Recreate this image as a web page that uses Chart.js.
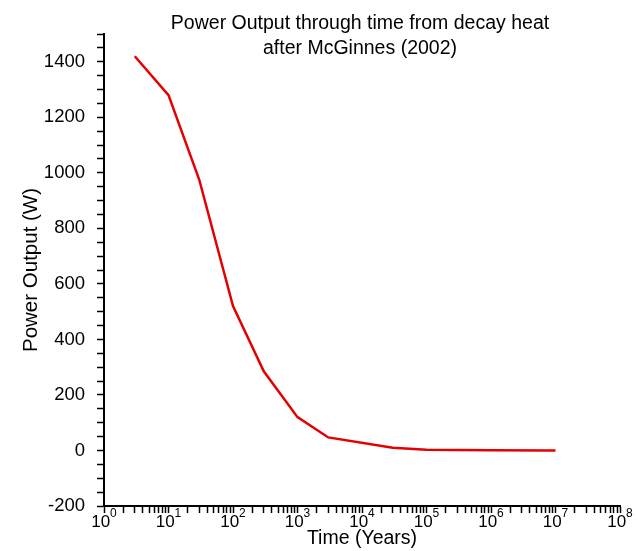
<!DOCTYPE html>
<html>
<head>
<meta charset="utf-8">
<script src="https://cdn.jsdelivr.net/npm/chart.js@4.4.1/dist/chart.umd.min.js"></script>
<style>
  html, body { margin: 0; padding: 0; background: #fff; }
  #wrap { width: 638px; height: 551px; }
</style>
</head>
<body>
<div id="wrap"><canvas id="grafico" width="638" height="551"></canvas></div>
<script>
// datos
const years = [3, 10, 30, 100, 300, 1000, 3000, 30000, 100000, 1000000, 10000000];
const power = [1420, 1280, 975, 520, 285, 120, 47, 10, 3, 1, 0];
const xExponents = ['0', '1', '2', '3', '4', '5', '6', '7', '8'];
const yTickLabels = [-200, 0, 200, 400, 600, 800, 1000, 1200, 1400];
const titleLines = ['Power Output through time from decay heat', 'after McGinnes (2002)'];

const FONT = 'Arial, "Liberation Sans", sans-serif';
Chart.defaults.font.family = FONT;
Chart.defaults.color = '#000';

const ctx = document.getElementById('grafico').getContext('2d');

const tituloPlugin = {
    id: 'tituloPlugin',
    afterDraw(chart) {
        const c = chart.ctx;
        const area = chart.chartArea;
        const cx = (area.left + area.right) / 2 - 2;
        c.save();
        c.fillStyle = '#000';
        c.textAlign = 'center';
        c.textBaseline = 'alphabetic';
        c.font = '19.5px ' + FONT;
        c.fillText(titleLines[0], cx, 29);
        c.fillText(titleLines[1], cx, 54);

        // etiquetas del eje x: 10 con exponente
        const xs = chart.scales.x;
        xExponents.forEach((e) => {
            const px = xs.getPixelForValue(Math.pow(10, Number(e)));
            c.font = '17px ' + FONT;
            const wBase = c.measureText('10').width;
            c.font = '12px ' + FONT;
            const wExp = c.measureText(e).width;
            const start = px - (wBase + wExp) / 2;
            c.textAlign = 'left';
            c.font = '17px ' + FONT;
            c.fillText('10', start, 527);
            c.font = '12px ' + FONT;
            c.fillText(e, start + wBase, 517);
        });
        c.restore();
    }
};

new Chart(ctx, {
    type: 'line',
    data: {
        datasets: [{
            data: years.map((x, i) => ({ x: x, y: power[i] })),
            borderColor: 'rgb(228, 0, 0)',
            borderWidth: 2.5,
            pointRadius: 0,
            tension: 0,
            fill: false
        }]
    },
    options: {
        responsive: false,
        animation: false,
        layout: {
            padding: { left: 0, right: 18, top: 34, bottom: 0 }
        },
        plugins: {
            legend: { display: false },
            title: { display: false },
            tooltip: { enabled: false }
        },
        scales: {
            x: {
                type: 'logarithmic',
                min: 1,
                max: 100000000,
                afterBuildTicks: (scale) => {
                    const ticks = [];
                    for (let d = 0; d < 8; d++) {
                        for (let m = 1; m < 10; m++) {
                            ticks.push({ value: m * Math.pow(10, d) });
                        }
                    }
                    ticks.push({ value: 100000000 });
                    scale.ticks = ticks;
                },
                afterFit: (scale) => { scale.height = 45; },
                ticks: {
                    autoSkip: false,
                    maxRotation: 0,
                    callback: () => ''
                },
                grid: {
                    drawOnChartArea: false,
                    color: '#000',
                    tickLength: 7,
                    tickWidth: 1.5
                },
                border: { color: '#000', width: 2 },
                title: {
                    display: true,
                    text: 'Time (Years)',
                    font: { size: 19.5 },
                    padding: { top: 0, bottom: 1 }
                }
            },
            y: {
                min: -200,
                max: 1500,
                afterFit: (scale) => { scale.width = 104; },
                ticks: {
                    stepSize: 50,
                    autoSkip: false,
                    padding: 12,
                    font: { size: 18.5 },
                    callback: (v) => yTickLabels.includes(v) ? String(v) : ''
                },
                grid: {
                    drawOnChartArea: false,
                    color: '#000',
                    tickLength: 7,
                    tickWidth: 1.5
                },
                border: { color: '#000', width: 2 },
                title: {
                    display: true,
                    text: 'Power Output (W)',
                    font: { size: 20.5 },
                    padding: { top: 19, bottom: 0 }
                }
            }
        }
    },
    plugins: [tituloPlugin]
});
</script>
</body>
</html>
